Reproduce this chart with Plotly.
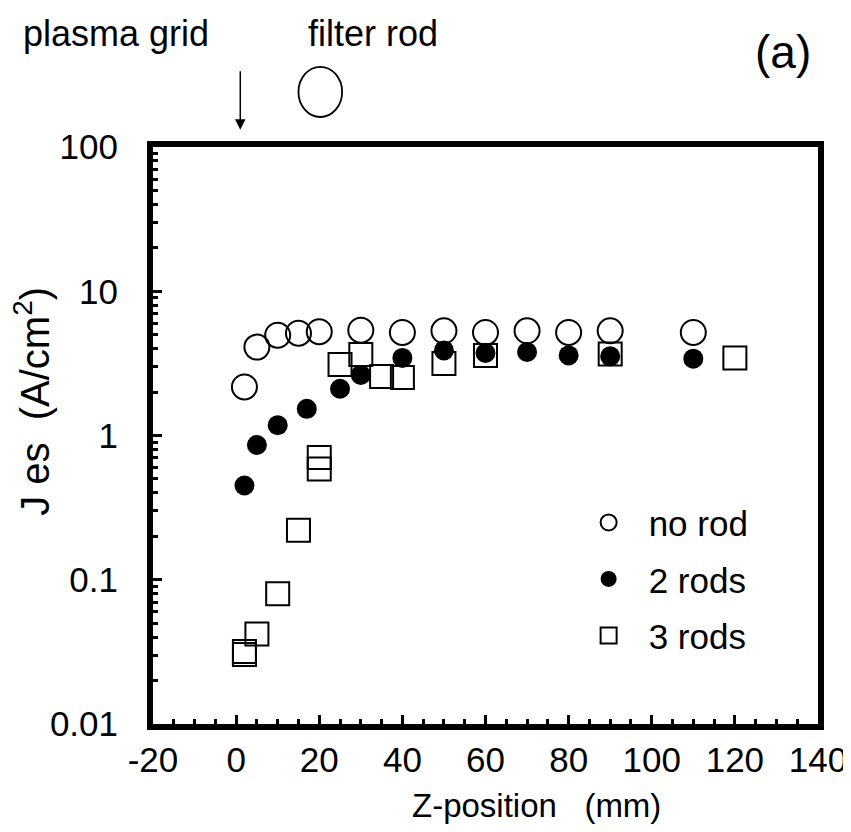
import plotly.graph_objects as go

# Data
x_norod = [2, 5, 10, 15, 20, 30, 40, 50, 60, 70, 80, 90, 110]
y_norod = [2.17, 4.1, 4.96, 5.12, 5.24, 5.37, 5.18, 5.32, 5.18, 5.32, 5.18, 5.32, 5.18]

x_2rods = [2, 5, 10, 17, 25, 30, 40, 50, 60, 70, 80, 90, 110]
y_2rods = [0.45, 0.86, 1.18, 1.53, 2.11, 2.63, 3.45, 3.89, 3.73, 3.79, 3.59, 3.54, 3.41]

x_3rods = [2, 2, 5, 10, 15, 20, 20, 25, 30, 35, 40, 50, 60, 90, 120]
y_3rods = [0.0318, 0.0303, 0.042, 0.080, 0.22, 0.705, 0.585, 3.1, 3.65, 2.56, 2.52, 3.15, 3.59, 3.67, 3.45]

y_tickvals = [0.01, 0.1, 1, 10, 100]
y_ticktext = ["0.01", "0.1", "1", "10", "100"]
x_tickvals = [-20, 0, 20, 40, 60, 80, 100, 120, 140]
x_ticktext = ["-20", "0", "20", "40", "60", "80", "100", "120", "140"]

FONT = "Liberation Sans, Arial, Helvetica, sans-serif"

fig = go.Figure()
fig.add_trace(go.Scatter(
    x=x_norod, y=y_norod, mode="markers", name="no rod", legendgroup="a",
    marker=dict(symbol="circle-open", size=25, color="black", line=dict(width=2, color="black")),
    cliponaxis=False))
fig.add_trace(go.Scatter(
    x=x_2rods, y=y_2rods, mode="markers", name="2 rods", legendgroup="b",
    marker=dict(symbol="circle", size=20, color="black", line=dict(width=0)),
    cliponaxis=False))
fig.add_trace(go.Scatter(
    x=x_3rods, y=y_3rods, mode="markers", name="3 rods", legendgroup="c",
    marker=dict(symbol="square-open", size=23, color="black", line=dict(width=2, color="black")),
    cliponaxis=False))

minor_y = [m * 10 ** e for e in range(-2, 2) for m in range(2, 10)]

fig.update_layout(
    width=851, height=832,
    margin=dict(l=145, r=36, t=139, b=116),
    paper_bgcolor="white", plot_bgcolor="white",
    font=dict(family=FONT, size=35, color="black"),
    showlegend=True,
    legend=dict(x=0.625, y=0.40, xanchor="left", yanchor="top",
                font=dict(size=35, family=FONT), tracegroupgap=8, itemwidth=70,
                bgcolor="rgba(0,0,0,0)", itemsizing="trace"),
    xaxis=dict(range=[-20, 140], tickvals=x_tickvals, ticktext=x_ticktext,
               showgrid=False, zeroline=False,
               showline=True, linewidth=6, linecolor="black", mirror=True,
               ticks="inside", ticklen=9, tickwidth=3, tickcolor="black",
               ticklabelstandoff=0,
               minor=dict(dtick=5, ticks="inside", ticklen=5, tickwidth=3, tickcolor="black", showgrid=False),
               tickfont=dict(size=35)),
    yaxis=dict(type="log", range=[-2, 2], tickvals=y_tickvals, ticktext=y_ticktext,
               showgrid=False, zeroline=False,
               showline=True, linewidth=6, linecolor="black", mirror=True,
               ticks="inside", ticklen=9, tickwidth=3, tickcolor="black",
               ticklabelstandoff=22,
               minor=dict(tickvals=minor_y, ticks="inside", ticklen=5, tickwidth=3, tickcolor="black", showgrid=False),
               tickfont=dict(size=35)),
)

# Axis titles as annotations (positioned like the reference)
fig.add_annotation(text="Z-position\u00a0\u00a0\u00a0(mm)", xref="paper", yref="paper",
                   x=0.577, y=-0.142, xanchor="center", yanchor="middle",
                   showarrow=False, font=dict(size=33, family=FONT))
fig.add_annotation(text="J es\u00a0\u00a0(A/cm<sup>2</sup>)", xref="paper", yref="paper",
                   x=-0.182, y=0.56, xanchor="center", yanchor="middle", textangle=-90,
                   showarrow=False, font=dict(size=40, family=FONT))

# Top labels
fig.add_annotation(text="plasma grid", xref="paper", yref="paper",
                   x=-0.055, y=1.197, xanchor="center", yanchor="middle",
                   showarrow=False, font=dict(size=36, family=FONT))
fig.add_annotation(text="filter rod", xref="x", yref="paper",
                   x=33.0, y=1.197, xanchor="center", yanchor="middle",
                   showarrow=False, font=dict(size=36, family=FONT))
fig.add_annotation(text="(a)", xref="paper", yref="paper",
                   x=0.947, y=1.164, xanchor="center", yanchor="middle",
                   showarrow=False, font=dict(size=46, family=FONT))
# arrow pointing at plasma grid (z = 0)
fig.add_annotation(text="", xref="x", yref="paper", x=1, y=1.03,
                   ax=0, ay=-60, showarrow=True, arrowhead=2, arrowsize=1.4,
                   arrowwidth=1.5, arrowcolor="black")
# filter rod sketch
fig.add_shape(type="circle", xref="x", yref="paper", x0=15.0, x1=25.5, y0=1.139, y1=1.052,
              line=dict(color="black", width=1.8))

fig.write_html("out.html")
